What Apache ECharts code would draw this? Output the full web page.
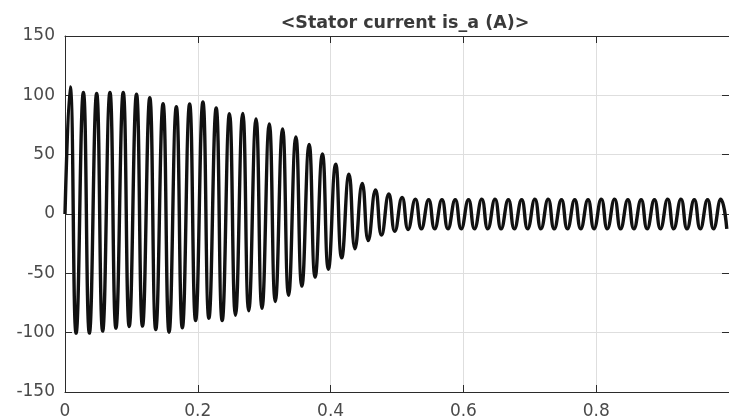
<!DOCTYPE html>
<html>
<head>
<meta charset="utf-8">
<title>Stator current</title>
<script src="https://cdn.jsdelivr.net/npm/echarts@6/dist/echarts.min.js"></script>
<style>
  html, body { margin: 0; padding: 0; background: #fff; }
  #chart { width: 729px; height: 420px; }
</style>
</head>
<body>
<div id="chart"></div>
<script>
// Phase-a stator current during motor start-up (50 Hz supply).
// Waveform is described by its positive and negative peak of each cycle.
const titleText = '<Stator current is_a (A)>';

const period = 0.02;        // s, one supply cycle
const firstPeak = 0.0077;   // s, time of the first positive peak
const firstTrough = 0.0167; // s, time of the first negative peak

const peaks = [
  107, 102.5, 101.6, 102.5, 102.5, 101, 98, 93, 90.5, 92.7,
  94.4, 89.3, 84.5, 84.8, 80, 75.8, 71.6, 65, 58.6, 50.5,
  42, 33.6, 25.7, 20.2, 16.8, 13.9, 12.5, 12, 12, 12,
  12, 12.5, 12.5, 12, 12, 12.5, 12.5, 12, 12, 12,
  12.5, 12.5, 12, 12, 12, 12.5, 12.5, 12, 12, 12.5
];

const troughs = [
  -100.4, -100.4, -98.7, -96.2, -94.8, -94.5, -97.4, -99.6, -96, -89.8,
  -87.8, -89.8, -85.3, -81.6, -79.5, -73.7, -68.5, -60.8, -53.2, -46.5,
  -37, -29.3, -22.3, -17.8, -14.6, -13, -12.5, -12.5, -12.5, -12.5,
  -12.5, -12.5, -12.5, -12.5, -12.5, -12.5, -12.5, -12.5, -12.5, -12.5,
  -12.5, -12.5, -12.5, -12.5, -12.5, -12.5, -12.5, -12.5, -12.5, -12.5
];

const xTicks = { min: 0, max: 1, step: 0.2 };
const yTicks = { min: -150, max: 150, step: 50 };

// current starts from zero, then alternates positive / negative peaks
const wave = [[0, 0]];
for (let k = 0; k < peaks.length; k++) {
  wave.push([firstPeak + k * period, peaks[k]]);
  wave.push([firstTrough + k * period, troughs[k]]);
}

const labelFont = { fontFamily: 'DejaVu Sans', fontSize: 17, color: '#4a4a4a' };
const axisLineStyle = { color: '#2b2b2b', width: 1 };

const chart = echarts.init(document.getElementById('chart'), null, { renderer: 'canvas' });
chart.setOption({
  animation: false,
  backgroundColor: '#ffffff',
  title: {
    text: titleText,
    left: 400,
    top: 9,
    textAlign: 'center',
    textStyle: { fontFamily: 'DejaVu Sans', fontSize: 17.5, fontWeight: 'bold', color: '#3a3a3a' }
  },
  grid: { left: 65, top: 36, right: -5, bottom: 28, containLabel: false },
  xAxis: [
    {
      type: 'value', min: xTicks.min, max: xTicks.max, interval: xTicks.step,
      position: 'bottom',
      axisLine: { show: true, onZero: false, lineStyle: axisLineStyle },
      axisTick: { show: true, inside: true, length: 7, lineStyle: axisLineStyle },
      axisLabel: Object.assign({ margin: 11, showMaxLabel: false }, labelFont),
      splitLine: { show: true, lineStyle: { color: '#dedede', width: 1 } }
    },
    {
      type: 'value', min: xTicks.min, max: xTicks.max, interval: xTicks.step,
      position: 'top',
      axisLine: { show: true, onZero: false, lineStyle: axisLineStyle },
      axisTick: { show: true, inside: true, length: 7, lineStyle: axisLineStyle },
      axisLabel: { show: false },
      splitLine: { show: false }
    }
  ],
  yAxis: [
    {
      type: 'value', min: yTicks.min, max: yTicks.max, interval: yTicks.step,
      position: 'left',
      axisLine: { show: true, onZero: false, lineStyle: axisLineStyle },
      axisTick: { show: true, inside: true, length: 7, lineStyle: axisLineStyle },
      axisLabel: Object.assign({ margin: 10 }, labelFont),
      splitLine: { show: true, lineStyle: { color: '#dedede', width: 1 } }
    },
    {
      type: 'value', min: yTicks.min, max: yTicks.max, interval: yTicks.step,
      position: 'right',
      axisLine: { show: true, onZero: false, lineStyle: axisLineStyle },
      axisTick: { show: true, inside: true, length: 7, lineStyle: axisLineStyle },
      axisLabel: { show: false },
      splitLine: { show: false }
    }
  ],
  series: [
    {
      name: 'is_a',
      type: 'line',
      xAxisIndex: 0,
      yAxisIndex: 0,
      data: wave,
      smooth: 0.5,
      showSymbol: false,
      clip: true,
      lineStyle: { color: '#111111', width: 3.4 }
    }
  ]
});
</script>
</body>
</html>
